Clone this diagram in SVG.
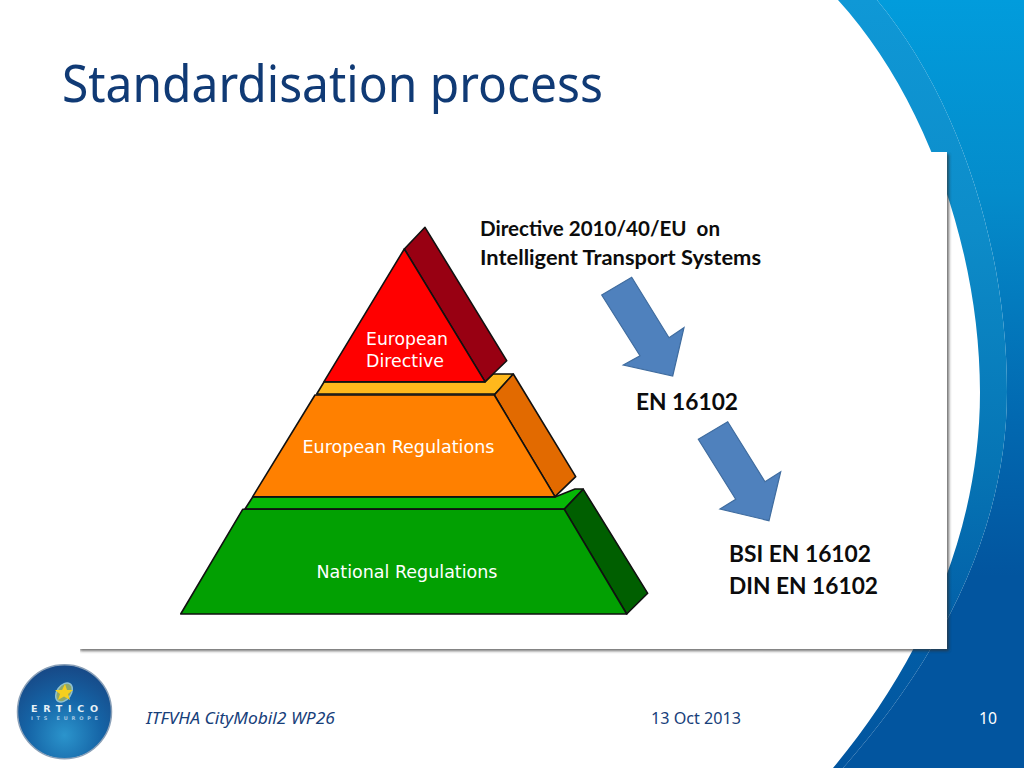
<svg xmlns="http://www.w3.org/2000/svg" width="1024" height="768" viewBox="0 0 1024 768">
<defs>
<linearGradient id="bg" gradientUnits="userSpaceOnUse" x1="0" y1="0" x2="0" y2="768"><stop offset="0" stop-color="#019cdc"/><stop offset="0.25" stop-color="#048ccb"/><stop offset="0.55" stop-color="#0268b0"/><stop offset="0.75" stop-color="#02559f"/><stop offset="1" stop-color="#02559f"/></linearGradient>
<linearGradient id="band" gradientUnits="userSpaceOnUse" x1="0" y1="0" x2="0" y2="768"><stop offset="0" stop-color="#0f98d6"/><stop offset="0.3" stop-color="#0d8cc9"/><stop offset="0.6" stop-color="#0675b5"/><stop offset="0.85" stop-color="#025ca5"/><stop offset="1" stop-color="#02559f"/></linearGradient>
<radialGradient id="logo" cx="0.5" cy="0.75" r="0.72"><stop offset="0" stop-color="#2b94cc"/><stop offset="0.55" stop-color="#1564a6"/><stop offset="1" stop-color="#174a88"/></radialGradient>
<filter id="sh" x="-3%" y="-3%" width="106%" height="106%"><feGaussianBlur stdDeviation="1.800"/></filter>
<clipPath id="shclip"><path d="M80 649H947V152H960V660H80Z"/></clipPath>
<style>
.edge{stroke:#111;stroke-width:1.6;stroke-linejoin:round}
.lbl{font-family:"DejaVu Sans",sans-serif;font-size:17px;fill:#fff}
.cal{font-family:Lato,"Liberation Sans",sans-serif;font-weight:700;fill:#0c0c0c}
.foot{font-family:"Noto Sans",sans-serif;font-size:16px;fill:#17407a}
.arrow{fill:#4f81bd;stroke:#3f6c9f;stroke-width:1.2}
</style>
</defs>
<rect width="1024" height="768" fill="#fff"/>
<path d="M877 0C960 100 1007 250 1007 392C1007 540 930 670 843 768H1024V0Z" fill="url(#bg)"/>
<path d="M838 0C925 95 980 250 980 392C980 540 915 670 833 768H843C930 670 1007 540 1007 392C1007 250 960 100 877 0Z" fill="url(#band)"/>
<g id="panel">
<g clip-path="url(#shclip)"><rect x="80" y="154" width="869" height="497" fill="#333" opacity="0.7" filter="url(#sh)"/></g>
<rect x="80" y="152" width="867" height="497" fill="#fff"/>
</g>
<text x="62" y="102" font-family="'Noto Sans',sans-serif" font-size="51" fill="#103a75" textLength="541" lengthAdjust="spacingAndGlyphs">Standardisation process</text>
<g id="node-national">
<path class="edge" d="M245 509L252.700 497H555L575 489H583.300L564.300 509Z" fill="#06b806"/>
<path class="edge" d="M564.300 509.300L583.300 489.300L647.700 593.300L626.700 614Z" fill="#005f00"/>
<path class="edge" d="M242.700 509.300H564.300L626.700 614H180.700Z" fill="#02a002"/>
<text class="lbl" x="316.500" y="577.500" textLength="181" lengthAdjust="spacingAndGlyphs">National Regulations</text>
</g>
<g id="node-regulations">
<path class="edge" d="M316.700 394L324 382H485L493 374H513.300L495 394Z" fill="#ffb81c"/>
<path class="edge" d="M494.300 395L513.300 374L575.700 476.700L555 496.700Z" fill="#e26a00"/>
<path class="edge" d="M315 395H494.300L555 496.700H252.700Z" fill="#ff8000"/>
<text class="lbl" x="302.500" y="452.500" textLength="192" lengthAdjust="spacingAndGlyphs">European Regulations</text>
</g>
<g id="node-directive">
<path class="edge" d="M404.300 249L425 227.300L506.700 360.700L485 381.700Z" fill="#980012"/>
<path class="edge" d="M404.300 249L485 381.700H324Z" fill="#ff0000"/>
<text class="lbl" x="366" y="344.500" textLength="82" lengthAdjust="spacingAndGlyphs">European</text>
<text class="lbl" x="366" y="367" textLength="78" lengthAdjust="spacingAndGlyphs">Directive</text>
</g>
<g id="connectors">
<path class="arrow" d="M601.700 295L631.700 277.300L669 337.700L684 327.700L672.700 376L623.300 365L640 355.700Z"/>
<path class="arrow" d="M698.300 439.300L727.700 421.700L765 481.700L780.700 471.700L769 520.700L720 509L735.700 499.300Z"/>
</g>
<g id="node-directive-text">
<text class="cal" x="480" y="236" font-size="20.500" xml:space="preserve" textLength="240" lengthAdjust="spacingAndGlyphs">Directive 2010/40/EU  on</text>
<text class="cal" x="480" y="264.500" font-size="20.500" textLength="281" lengthAdjust="spacingAndGlyphs">Intelligent Transport Systems</text>
</g>
<g id="node-en"><text class="cal" x="636" y="409.500" font-size="23" textLength="102" lengthAdjust="spacingAndGlyphs">EN 16102</text></g>
<g id="node-national-std">
<text class="cal" x="729" y="562" font-size="23" textLength="142" lengthAdjust="spacingAndGlyphs">BSI EN 16102</text>
<text class="cal" x="729" y="594" font-size="23" textLength="149" lengthAdjust="spacingAndGlyphs">DIN EN 16102</text>
</g>
<g id="logo">
<circle cx="64.500" cy="711.700" r="47" fill="url(#logo)" stroke="#8aa0b8" stroke-width="1.500"/>
<ellipse cx="64" cy="692.500" rx="7" ry="10.500" transform="rotate(35 64 692.500)" fill="#8fa868" stroke="#8fc0d0" stroke-width="1.500"/>
<path d="M65 684L67 690L73 690L68 694L70 700L64 696.500L58 700L60 694L55 690L62 690Z" fill="#f4cf1e"/>
<text x="31" y="711.500" font-family="'DejaVu Sans',sans-serif" font-weight="700" font-size="9.500" fill="#e8f0f6" textLength="67" lengthAdjust="spacing">ERTICO</text>
<text x="31" y="720" font-family="'DejaVu Sans',sans-serif" font-weight="700" font-size="5" fill="#a8c8e2" textLength="67" lengthAdjust="spacing">ITS EUROPE</text>
</g>
<text class="foot" x="146" y="724" font-style="italic" textLength="189" lengthAdjust="spacingAndGlyphs">ITFVHA CityMobil2 WP26</text>
<text class="foot" x="651" y="724" textLength="90" lengthAdjust="spacingAndGlyphs">13 Oct 2013</text>
<text x="979" y="724" font-family="'Noto Sans',sans-serif" font-size="16" fill="#fff" textLength="18" lengthAdjust="spacingAndGlyphs">10</text>
</svg>
